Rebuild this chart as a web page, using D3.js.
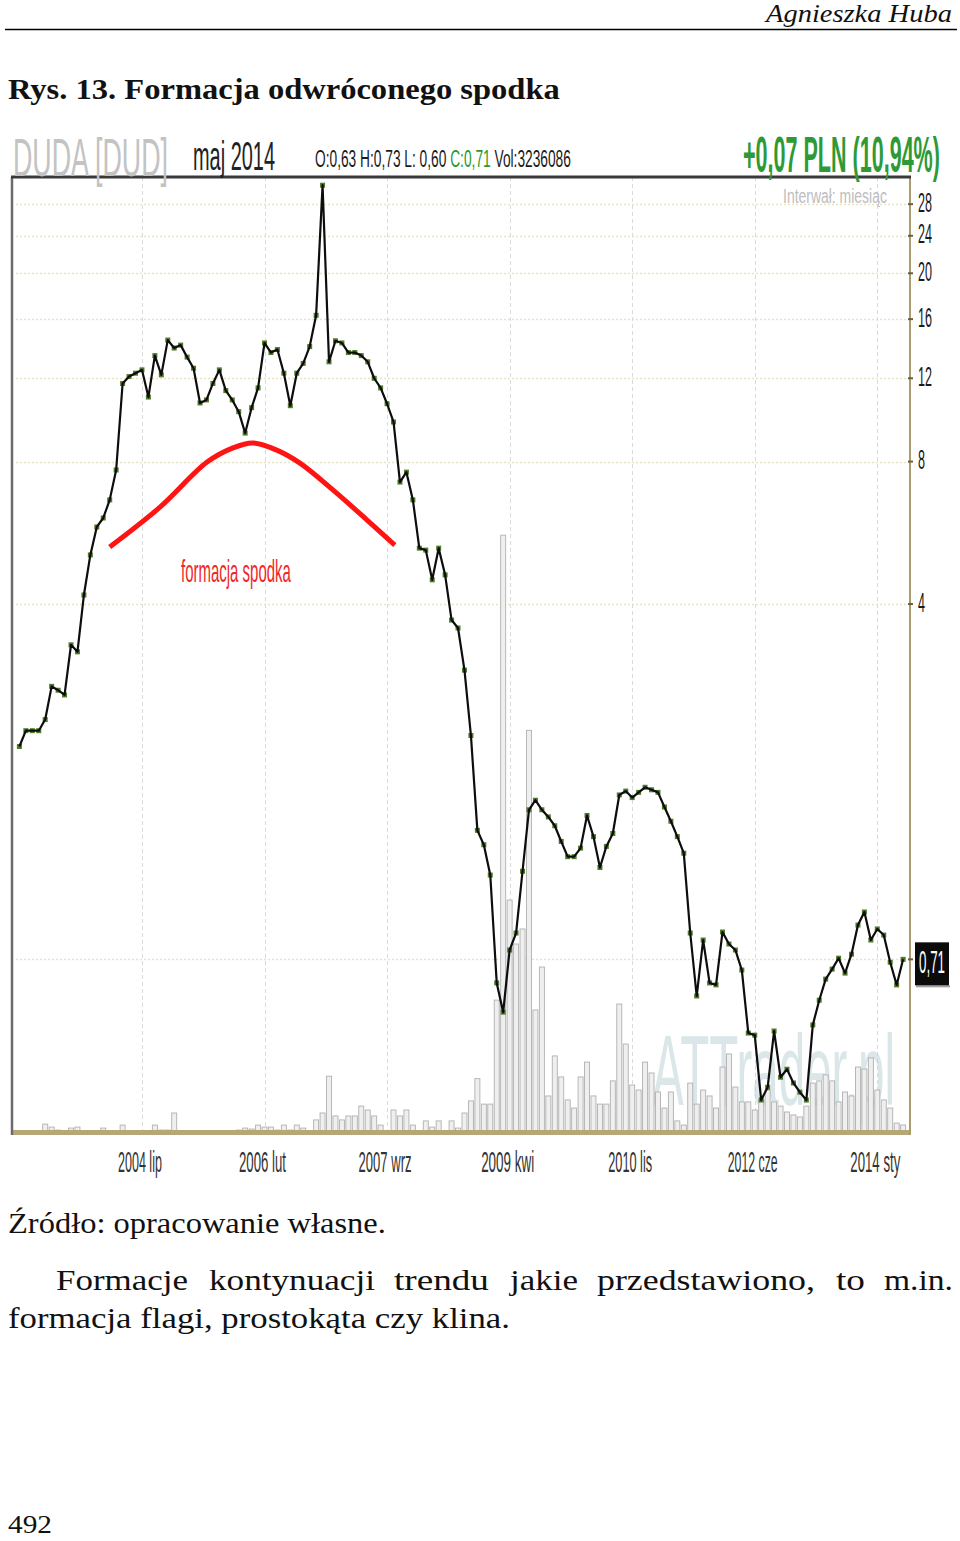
<!DOCTYPE html>
<html><head><meta charset="utf-8">
<script src="https://cdn.jsdelivr.net/npm/d3@7"></script>
<style>body{margin:0;background:#fff}svg{display:block}</style>
</head><body>
<svg id="c" width="960" height="1541"></svg>
<script>
// ---------- DATA ----------
const startDate = new Date(2002, 11, 1); // grudzień 2002, monthly candles
const closePrices = [
 2.00,2.16,2.16,2.16,2.28,2.68,2.63,2.57,3.28,3.17,
 4.18,5.08,5.82,6.08,6.64,7.68,11.7,12.1,12.3,12.5,
 10.95,13.4,12.2,14.45,13.9,14.1,13.3,12.6,10.64,10.8,
 11.7,12.5,11.3,10.8,10.2,9.19,10.4,11.45,14.25,13.6,
 13.8,12.3,10.5,12.3,12.9,14.0,16.3,30.7,13.0,14.4,
 14.25,13.6,13.6,13.4,13.0,12.0,11.45,10.6,9.7,7.24,
 7.6,6.64,5.25,5.2,4.5,5.25,4.61,3.7,3.56,2.9,
 2.11,1.33,1.24,1.07,0.633,0.549,0.743,0.807,1.09,1.47,
 1.54,1.47,1.42,1.36,1.26,1.17,1.17,1.22,1.43,1.29,
 1.11,1.23,1.31,1.58,1.61,1.56,1.60,1.64,1.62,1.60,
 1.49,1.39,1.29,1.19,0.807,0.594,0.78,0.633,0.627,0.811,
 0.765,0.743,0.674,0.496,0.491,0.358,0.381,0.501,0.40,0.416,
 0.389,0.372,0.358,0.516,0.582,0.645,0.677,0.714,0.664,0.728,
 0.839,0.894,0.78,0.823,0.799,0.70,0.627,0.71
];
const volumesM = [
 0.8,0.8,0.8,0.8,3.6,2.4,1.2,0.8,2.0,2.4,
 0.8,0.8,0.8,2.0,0.8,0.8,3.2,0.8,0.8,0.8,
 0.8,3.2,1.2,1.2,8.1,0,0,0.8,0.8,0,
 0.8,0.8,0.8,0.8,1.2,2.0,1.6,3.2,2.4,2.4,
 1.2,3.2,1.2,3.2,2.0,0.8,5.3,8.1,23,6.9,
 5.3,6.9,6.9,10.9,9.3,6.9,3.2,0.8,9.3,6.9,
 9.3,3.2,0.8,4.9,2.4,4.9,0.8,4.9,2.0,8.1,
 13,22,11.7,11.7,53.8,242,94.3,76.5,82.6,163,
 49.8,67.2,15,31.2,22.7,13.4,10.1,22.7,28.7,15,
 11.7,11.7,21.1,52.2,36,19.4,17.4,28.7,24.3,16.6,
 10.1,16.6,4.9,3.2,20.2,11.7,17.4,15,10.1,26.7,
 32,18.6,12.6,12.6,9.3,13.4,17.4,12.6,10.9,8.5,
 7.3,6.5,10.9,20.2,21.1,23.5,21.1,12.6,16.6,15,
 26.7,25.9,30.4,17.4,13.4,10.1,4.0,3.24
];
const priceTicks = [28, 24, 20, 16, 12, 8, 4];
const priceTickLabels = ["28", "24", "20", "16", "12", "8", "4"];
const lastPrice = 0.71;
const lastPriceLabel = "0,71";
const xTickIndex = [19, 38, 57, 76, 95, 114, 133];
const xTickLabels = ["2004 lip", "2006 lut", "2007 wrz", "2009 kwi", "2010 lis", "2012 cze", "2014 sty"];
const xTickWidths = [44, 47, 53, 53, 44, 50, 50];
// hand-drawn saucer annotation: [month index, price]
const saucerIdx = [14.0, 21.8, 29.1, 33.1, 36.2, 39.9, 43.5, 48.6, 53.9, 58.2];
const saucerPrice = [5.28, 6.41, 7.98, 8.55, 8.76, 8.46, 7.94, 6.97, 6.02, 5.33];

const months = d3.timeMonth.range(startDate, d3.timeMonth.offset(startDate, closePrices.length));

// ---------- SETUP ----------
const svg = d3.select("#c");
const L = 12, R = 910, T = 177, B = 1133;
const x = d3.scaleLinear().domain([0, months.length - 1]).range([19.4, 903.1]);
const y = d3.scaleLog().domain([0.305, 31.95]).range([B, T]);
const yv = d3.scaleLinear().domain([0, 387]).range([B, T]);

// text helper: width-fitted via horizontal scale transform
function txt(g, s, xx, yy, size, w, opts = {}) {
  const t = g.append("text").attr("x", 0).attr("y", 0)
    .attr("font-family", opts.family || "Liberation Sans, Arial, sans-serif")
    .attr("font-size", size)
    .attr("fill", opts.fill || "#111")
    .attr("font-weight", opts.weight || "normal")
    .attr("font-style", opts.style || "normal");
  if (Array.isArray(s)) {
    s.forEach(p => t.append("tspan").attr("fill", p[1]).text(p[0]));
  } else t.text(s);
  if (opts.opacity != null) t.attr("opacity", opts.opacity);
  let sx = 1;
  if (w) { const len = t.node().getComputedTextLength(); sx = w / len; }
  t.attr("transform", `translate(${xx},${yy}) scale(${sx},1)`);
  return t;
}

// ---------- PAGE TEXT ----------
const serif = "Liberation Serif, Times New Roman, serif";
txt(svg, "Agnieszka Huba", 766, 22, 26, 186, {family: serif, style: "italic"});
svg.append("line").attr("x1", 5).attr("x2", 957).attr("y1", 29.5).attr("y2", 29.5)
  .attr("stroke", "#000").attr("stroke-width", 1.5);
txt(svg, "Rys. 13. Formacja odwróconego spodka", 8, 99, 30, 552, {family: serif, weight: "bold"});
txt(svg, "Źródło: opracowanie własne.", 8, 1233, 29, 378, {family: serif});
const para1 = [["Formacje",56,132],["kontynuacji",209,166],["trendu",394,95],["jakie",510,68],
  ["przedstawiono,",597,218],["to",836,29],["m.in.",884,69]];
para1.forEach(d => txt(svg, d[0], d[1], 1290, 30, d[2], {family: serif}));
txt(svg, "formacja flagi, prostokąta czy klina.", 8, 1328, 30, 502, {family: serif});
txt(svg, "492", 8, 1533, 25, 44, {family: serif});

// ---------- CHART ----------
const g = svg.append("g");
const sans = "Liberation Sans, Arial, sans-serif";

// horizontal dotted gridlines
g.selectAll(".hg").data(priceTicks.concat([lastPrice])).enter().append("line")
  .attr("x1", 16).attr("x2", R).attr("y1", d => Math.round(y(d)) + 0.5).attr("y2", d => Math.round(y(d)) + 0.5)
  .attr("stroke", "#e9e3c2").attr("stroke-width", 1.6).attr("stroke-dasharray", "2,2");
// vertical dashed gridlines
g.selectAll(".vg").data(xTickIndex).enter().append("line")
  .attr("x1", d => Math.round(x(d)) + 0.5).attr("x2", d => Math.round(x(d)) + 0.5)
  .attr("y1", T).attr("y2", B)
  .attr("stroke", "#dadada").attr("stroke-width", 1).attr("stroke-dasharray", "4,3");

// watermark
txt(g, "ATTrader.pl", 652, 1105, 100, 243, {family: sans, fill: "#bcd3d6", opacity: 0.55});

// volume bars
g.selectAll(".vbar").data(volumesM.map((v, i) => ({v, i})).filter(d => d.v > 0)).enter().append("rect")
  .attr("x", d => x(d.i) - 2.5).attr("width", 5)
  .attr("y", d => yv(d.v)).attr("height", d => B - yv(d.v))
  .attr("fill", "#efefef").attr("stroke", "#b0b0b0").attr("stroke-width", 0.9);

// frame
g.append("rect").attr("x", L).attr("y", B - 3).attr("width", R - L).attr("height", 5).attr("fill", "#b6a777");
g.append("line").attr("x1", L).attr("x2", L).attr("y1", T).attr("y2", B + 2).attr("stroke", "#6b6b6b").attr("stroke-width", 2.5);
g.append("line").attr("x1", R).attr("x2", R).attr("y1", T).attr("y2", B + 2).attr("stroke", "#aa9c6e").attr("stroke-width", 2);
g.append("line").attr("x1", L - 1).attr("x2", R + 1).attr("y1", T).attr("y2", T).attr("stroke", "#3a3a3a").attr("stroke-width", 3);

// right ticks
g.selectAll(".rt").data(priceTicks.concat([lastPrice])).enter().append("line")
  .attr("x1", R - 2).attr("x2", R + 3).attr("y1", d => y(d)).attr("y2", d => y(d))
  .attr("stroke", "#6a6040").attr("stroke-width", 2);

// saucer annotation
const saucerPts = saucerIdx.map((m, k) => [x(m), y(saucerPrice[k])]);
g.append("path").attr("d", d3.line().curve(d3.curveCatmullRom)(saucerPts))
  .attr("fill", "none").attr("stroke", "#ff1414").attr("stroke-width", 5);
txt(g, "formacja spodka", 181, 582, 31, 110, {family: sans, fill: "#f02828"});

// price line
const pts = closePrices.map((v, i) => [x(i), y(v)]);
g.selectAll(".mk").data(pts).enter().append("rect")
  .attr("x", d => d[0] - 2.5).attr("y", d => d[1] - 2.5).attr("width", 5).attr("height", 5)
  .attr("fill", "#4f7a2a");
g.append("path").attr("d", d3.line()(pts)).attr("fill", "none")
  .attr("stroke", "#0d0d0d").attr("stroke-width", 2.2).attr("stroke-linejoin", "round");

// right axis labels
priceTicks.forEach((t, k) => {
  const lab = priceTickLabels[k];
  txt(g, lab, 918, y(t) + 7.5, 28, 7 * lab.length, {family: sans, fill: "#1a1a1a"});
});
// last price box
const ly = y(lastPrice);
g.append("rect").attr("x", 916).attr("y", ly + 26).attr("width", 34).attr("height", 2).attr("fill", "#a0a0a0");
g.append("rect").attr("x", 915).attr("y", ly - 17).attr("width", 34).attr("height", 43).attr("fill", "#0b0b0b");
txt(g, lastPriceLabel, 919, ly + 14, 31, 26, {family: sans, fill: "#fff"});

// bottom axis labels
xTickIndex.forEach((m, k) => {
  const w = xTickWidths[k];
  txt(g, xTickLabels[k], x(m) - 2 - w / 2, 1172, 30, w, {family: sans, fill: "#333"});
});

// header
txt(g, "DUDA [DUD]", 13, 176, 54, 155, {family: sans, fill: "#c3c3c3"});
txt(g, "maj 2014", 193, 170, 40, 82, {family: sans, fill: "#222"});
txt(g, [["O:0,63 H:0,73 L: 0,60 ", "#1a1a1a"], ["C:0,71", "#2a9a2a"], [" Vol:3236086", "#1a1a1a"]],
  315, 167, 24, 256, {family: sans});
txt(g, "+0,07 PLN (10,94%)", 743, 172, 50, 197, {family: sans, fill: "#2e9a36", weight: "bold"});
txt(g, "Interwał: miesiąc", 783, 203, 20, 104, {family: sans, fill: "#bdbdbd"});
</script>
</body></html>
